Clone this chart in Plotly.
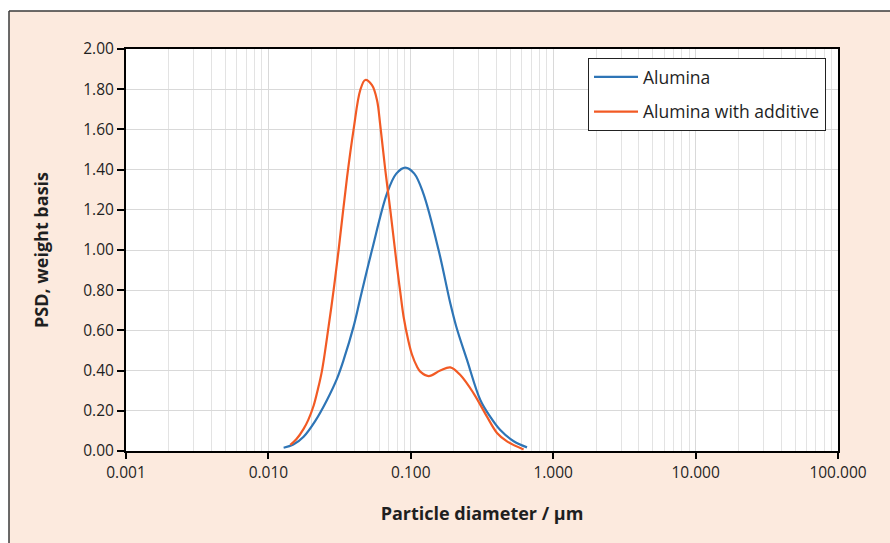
import plotly.graph_objects as go

# Particle size distribution data (diameter in µm, PSD weight basis)
alumina_d = [0.01279, 0.01496, 0.01767, 0.02135, 0.02580, 0.03032, 0.03374,
             0.03966, 0.04419, 0.05340, 0.06806, 0.07910, 0.09150, 0.1058,
             0.1224, 0.1567, 0.1894, 0.2087, 0.2481, 0.3076, 0.3616, 0.4251,
             0.5246, 0.6546]
alumina_psd = [0.016, 0.032, 0.071, 0.150, 0.254, 0.360, 0.453,
               0.620, 0.760, 1.000, 1.282, 1.380, 1.410, 1.380,
               1.282, 1.000, 0.735, 0.618, 0.453, 0.254, 0.170, 0.104,
               0.050, 0.018]

additive_d = [0.01425, 0.01570, 0.01767, 0.01906, 0.02077, 0.02222, 0.02379,
              0.02648, 0.02870, 0.03112, 0.03565, 0.03966, 0.04419, 0.04791,
              0.05340, 0.05788, 0.06105, 0.06620, 0.07178, 0.07999, 0.08437,
              0.08900, 0.09603, 0.1019, 0.1105, 0.1166, 0.1334, 0.1611,
              0.1894, 0.2227, 0.2761, 0.3427, 0.4030, 0.4738, 0.6196]
additive_psd = [0.030, 0.058, 0.110, 0.155, 0.225, 0.305, 0.400,
                0.620, 0.800, 1.000, 1.360, 1.600, 1.796, 1.846,
                1.820, 1.746, 1.620, 1.398, 1.200, 0.917, 0.790,
                0.668, 0.550, 0.480, 0.420, 0.395, 0.373, 0.400,
                0.416, 0.378, 0.287, 0.171, 0.090, 0.048, 0.008]

x_ticks = [0.001, 0.01, 0.1, 1, 10, 100]
x_ticklabels = ["0.001", "0.010", "0.100", "1.000", "10.000", "100.000"]
y_ticks = [0.0, 0.2, 0.4, 0.6, 0.8, 1.0, 1.2, 1.4, 1.6, 1.8, 2.0]

minor_vals = [m * 10 ** e for e in range(-3, 2) for m in range(2, 10)]

FONT = "Open Sans, Noto Sans, sans-serif"
TEXT = "#1f1f1f"
PEACH = "#FCEADE"

fig = go.Figure()
fig.add_trace(go.Scatter(
    x=alumina_d, y=alumina_psd, mode="lines", name="Alumina",
    line=dict(color="#2E75B6", width=2.2, shape="spline", smoothing=1.0),
    legendgroup="a",
))
fig.add_trace(go.Scatter(
    x=additive_d, y=additive_psd, mode="lines", name="Alumina with additive",
    line=dict(color="#F25A24", width=2.2, shape="spline", smoothing=1.0),
    legendgroup="b",
))

L, R, T, B = 126, 52, 49, 92
W, H = 890, 543
pw, ph = W - L - R, H - T - B

def px(x):
    return (x - L) / pw

def py(y):
    return (H - B - y) / ph

shapes = [
    # white margin strips above and left of the framed panel
    dict(type="rect", xref="paper", yref="paper", x0=px(0), x1=px(W), y0=py(11), y1=py(0),
         fillcolor="white", line=dict(width=0), layer="below"),
    dict(type="rect", xref="paper", yref="paper", x0=px(0), x1=px(9), y0=py(H), y1=py(0),
         fillcolor="white", line=dict(width=0), layer="below"),
    # panel frame lines
    dict(type="line", xref="paper", yref="paper", x0=px(9), x1=px(W), y0=py(11), y1=py(11),
         line=dict(color="#3a3a3a", width=1.5)),
    dict(type="line", xref="paper", yref="paper", x0=px(9), x1=px(9), y0=py(11), y1=py(H),
         line=dict(color="#3a3a3a", width=1.5)),
]

fig.update_layout(
    width=W, height=H,
    margin=dict(l=L, r=R, t=T, b=B),
    paper_bgcolor=PEACH,
    plot_bgcolor="white",
    font=dict(family=FONT, size=15, color=TEXT),
    shapes=shapes,
    showlegend=True,
    legend=dict(
        x=px(588), y=py(58), xanchor="left", yanchor="top",
        bgcolor="white", bordercolor="#222", borderwidth=1,
        font=dict(family=FONT, size=17.5, color=TEXT),
        traceorder="grouped", tracegroupgap=9,
        itemwidth=44,
    ),
)

fig.update_xaxes(
    type="log", range=[-3, 2],
    tickvals=x_ticks, ticktext=x_ticklabels,
    ticks="outside", ticklen=6, tickwidth=2, tickcolor="black",
    showline=True, linecolor="black", linewidth=2, mirror=True,
    showgrid=True, gridcolor="#D9D9D9", gridwidth=1,
    minor=dict(tickvals=minor_vals, showgrid=True, gridcolor="#E3E3E3", gridwidth=1, ticks=""),
    zeroline=False,
    tickfont=dict(size=15.5, color=TEXT),
    title=dict(text="<b>Particle diameter / μm</b>", font=dict(size=18, color=TEXT), standoff=26),
)
fig.update_yaxes(
    range=[0, 2.0], tickvals=y_ticks, tickformat=".2f",
    ticks="outside", ticklen=7, tickwidth=2, tickcolor="black",
    showline=True, linecolor="black", linewidth=2, mirror=True,
    showgrid=True, gridcolor="#D9D9D9", gridwidth=1,
    zeroline=False,
    tickfont=dict(size=15.5, color=TEXT),
    title=dict(text="<b>PSD, weight basis</b>", font=dict(size=18, color=TEXT), standoff=30),
)

fig.write_html("out.html")
